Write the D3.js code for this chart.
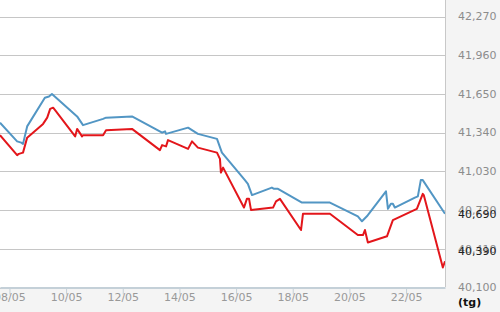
<!DOCTYPE html>
<html>
<head>
<meta charset="utf-8">
<script src="https://cdn.jsdelivr.net/npm/d3@7"></script>
<style>
  body { margin: 0; padding: 0; background: #fff; }
  #chart svg { display: block; font-family: "DejaVu Sans", sans-serif; }
</style>
</head>
<body>
<div id="chart"></div>
<script>
// sell price (blue) and buy price (red), per tael
var sellDates = ["05-07 16:00","05-08 06:30","05-08 10:00","05-08 11:30","05-08 15:00","05-09 06:00","05-09 09:30","05-09 12:00",
    "05-10 09:20","05-10 14:20","05-11 07:20","05-11 09:50","05-12 07:50","05-13 09:20","05-13 11:50","05-13 12:40",
    "05-14 07:20","05-14 15:40","05-15 07:50","05-15 12:00","05-16 07:30","05-16 10:00","05-16 13:30","05-17 06:20",
    "05-17 08:10","05-17 11:30","05-18 07:50","05-19 07:30","05-20 07:10","05-20 10:40","05-20 14:50","05-21 07:00",
    "05-21 08:40","05-21 11:10","05-21 12:50","05-21 14:30","05-22 07:30","05-22 10:00","05-22 12:30","05-22 14:10","05-23 09:00"];
var sellPrices = [41420,41270,41260,41250,41390,41620,41630,41650,
    41470,41400,41450,41460,41470,41340,41350,41330,
    41380,41330,41290,41180,40960,40930,40840,40900,
    40890,40890,40780,40780,40670,40630,40670,40870,
    40730,40770,40770,40740,40820,40830,40960,40960,40690];

var buyDates = ["05-07 16:00","05-08 06:30","05-08 08:00","05-08 11:30","05-08 15:00","05-09 04:30","05-09 08:00","05-09 10:30",
    "05-09 13:00","05-09 14:40","05-10 07:40","05-10 09:20","05-10 13:30","05-10 14:20","05-11 07:20","05-11 09:50",
    "05-12 07:50","05-13 07:30","05-13 09:20","05-13 12:40","05-13 14:20","05-14 07:20","05-14 10:40","05-14 15:40",
    "05-15 07:50","05-15 10:20","05-15 11:10","05-15 13:00","05-16 06:40","05-16 09:10","05-16 11:00","05-16 12:40",
    "05-17 07:20","05-17 09:50","05-17 13:10","05-18 07:00","05-18 08:40","05-19 07:30","05-20 07:10","05-20 11:30",
    "05-20 13:10","05-20 15:40","05-21 07:50","05-21 12:50","05-22 09:10","05-22 14:10","05-22 15:00","05-23 07:10","05-23 09:00"];
var buyPrices = [41320,41160,41170,41180,41300,41410,41460,41530,
    41540,41520,41310,41370,41310,41320,41320,41360,
    41370,41200,41240,41230,41280,41210,41270,41220,
    41180,41130,41020,41060,40740,40810,40810,40720,
    40740,40790,40810,40560,40690,40690,40520,40520,
    40560,40460,40510,40640,40730,40850,40840,40260,40310];

var yTicks = [40100, 40410, 40720, 41030, 41340, 41650, 41960, 42270];
var xTicks = ["05-08","05-10","05-12","05-14","05-16","05-18","05-20","05-22"];
var lastLabels = ["40,690", "40,390"];
var lastValues = [40690, 40390];
var unitLabel = "(tg)";

(function(){
    var width = 500,
        height = 312,
        plotW = 445,
        plotH = 287;

    var parseTime = d3.timeParse("%Y-%m-%d %H:%M");
    var parseDay = d3.timeParse("%Y-%m-%d");

    var sell = sellDates.map(function(d, i){
        return { date: parseTime("2024-" + d), value: sellPrices[i] };
    });
    var buy = buyDates.map(function(d, i){
        return { date: parseTime("2024-" + d), value: buyPrices[i] };
    });

    var svg = d3.select("#chart")
        .append("svg")
        .attr("width", width)
        .attr("height", height)

    // backgrounds
    svg.append("rect")
        .attr("width", width)
        .attr("height", height)
        .attr("fill", "#f4f4f4")
    svg.append("rect")
        .attr("width", plotW)
        .attr("height", plotH)
        .attr("fill", "#fff")

    var x = d3.scaleTime()
        .domain(d3.extent(sell.concat(buy), function(d){ return d.date; }))
        .range([0, plotW]);

    var y = d3.scaleLinear()
        .domain([40100, 42270])
        .range([287.5, 16.5]);

    // gridlines
    svg.selectAll(".grid")
        .data(yTicks)
        .enter().append("line")
        .attr("class", "grid")
        .attr("x1", 0)
        .attr("x2", plotW)
        .attr("y1", function(d){ return Math.round(y(d)) + 0.5; })
        .attr("y2", function(d){ return Math.round(y(d)) + 0.5; })
        .attr("stroke", "#c6c6c6")
        .attr("stroke-width", 1)

    // plot frame (right + bottom)
    svg.append("line")
        .attr("x1", plotW + 0.5).attr("x2", plotW + 0.5)
        .attr("y1", 0).attr("y2", plotH)
        .attr("stroke", "#c8c8c8")

    // x axis
    var xAxis = d3.axisBottom(x)
        .tickValues(xTicks.map(function(d){ return parseDay("2024-" + d); }))
        .tickFormat(d3.timeFormat("%d/%m"))
        .tickSizeInner(7)
        .tickSizeOuter(0)
        .tickPadding(-1);

    var gx = svg.append("g")
        .attr("transform", "translate(0," + (plotH + 0.5) + ")")
        .call(xAxis)

    gx.select(".domain")
        .attr("stroke", "#c4d0d8")
        .attr("stroke-width", 2)
    gx.selectAll(".tick line")
        .attr("stroke", "#c4d0d8")
    gx.selectAll(".tick text")
        .attr("fill", "#999")
        .style("font-size", "11px")
        .style("font-family", "DejaVu Sans, sans-serif")

    // y labels
    svg.selectAll(".ylab")
        .data(yTicks)
        .enter().append("text")
        .attr("class", "ylab")
        .attr("x", 458)
        .attr("y", function(d){ return y(d); })
        .attr("dy", "0.35em")
        .attr("fill", "#8c8c8c")
        .style("font-size", "11px")
        .text(function(d){ return d3.format(",")(d); })

    // current price labels
    svg.selectAll(".lastlab")
        .data(lastValues)
        .enter().append("text")
        .attr("class", "lastlab")
        .attr("x", 458)
        .attr("y", function(d){ return y(d); })
        .attr("dy", "0.35em")
        .attr("fill", "#222")
        .style("font-size", "11px")
        .text(function(d, i){ return lastLabels[i]; })

    svg.append("text")
        .attr("x", 458)
        .attr("y", 302)
        .attr("dy", "0.35em")
        .attr("fill", "#111")
        .style("font-size", "11px")
        .style("font-weight", "bold")
        .text(unitLabel)

    // lines
    svg.append("clipPath")
        .attr("id", "plot-clip")
        .append("rect")
        .attr("width", plotW)
        .attr("height", plotH)

    var line = d3.line()
        .x(function(d){ return x(d.date); })
        .y(function(d){ return y(d.value); })

    svg.append("path")
        .datum(sell)
        .attr("clip-path", "url(#plot-clip)")
        .attr("fill", "none")
        .attr("stroke", "#5296c4")
        .attr("stroke-width", 2)
        .attr("stroke-linejoin", "round")
        .attr("d", line)

    svg.append("path")
        .datum(buy)
        .attr("clip-path", "url(#plot-clip)")
        .attr("fill", "none")
        .attr("stroke", "#e3161b")
        .attr("stroke-width", 2)
        .attr("stroke-linejoin", "round")
        .attr("d", line)
})();
</script>
</body>
</html>
